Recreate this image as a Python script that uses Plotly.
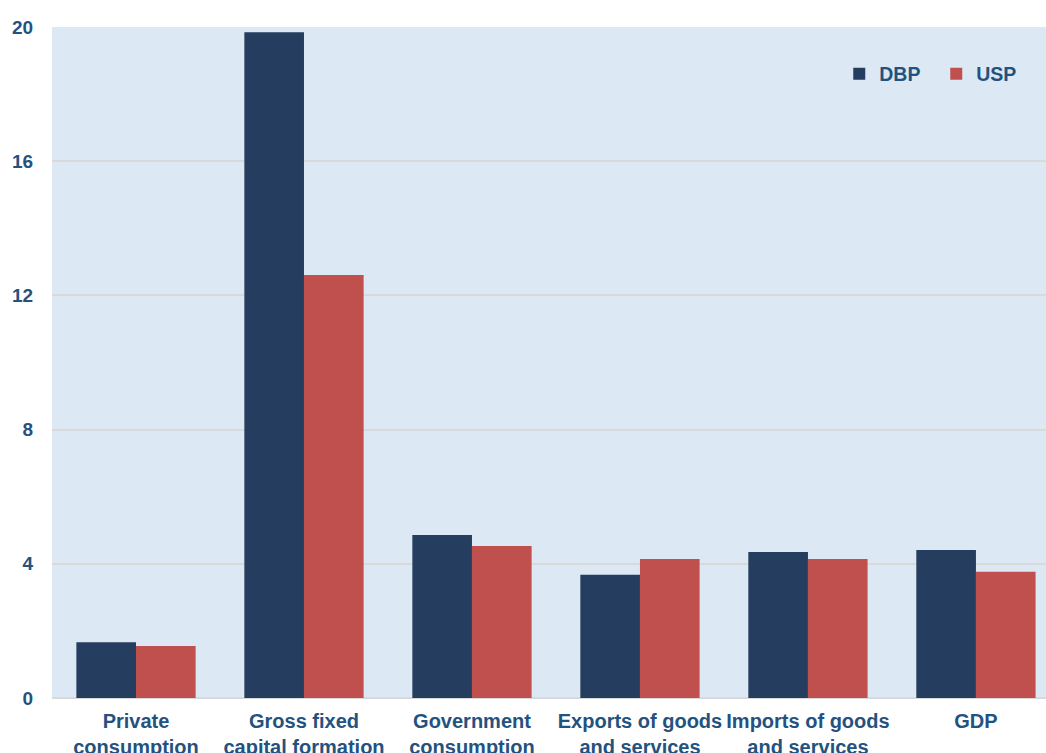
import plotly.graph_objects as go

categories = ["Private<br>consumption", "Gross fixed<br>capital formation", "Government<br>consumption",
              "Exports of goods<br>and services", "Imports of goods<br>and services", "GDP"]
dbp = [1.66, 19.84, 4.86, 3.67, 4.35, 4.41]
usp = [1.55, 12.61, 4.53, 4.14, 4.14, 3.76]
y_ticks = [0, 4, 8, 12, 16, 20]

TXT = "#24527F"
FONT = "Liberation Sans, Arial, sans-serif"

fig = go.Figure()
fig.add_trace(go.Bar(x=categories, y=dbp, name="DBP", marker=dict(color="#253E5F", line=dict(width=0))))
fig.add_trace(go.Bar(x=categories, y=usp, name="USP", marker=dict(color="#C0504D", line=dict(width=0))))

fig.update_layout(
    width=1046, height=753,
    margin=dict(l=52, r=0, t=27, b=55, autoexpand=False),
    paper_bgcolor="white",
    plot_bgcolor="#DCE9F5",
    barmode="group", bargap=0.29, bargroupgap=0,
    font=dict(family=FONT, color=TXT, size=20),
    legend=dict(orientation="h", x=0.792, y=0.93, xanchor="left", yanchor="middle",
                bgcolor="rgba(0,0,0,0)", font=dict(size=19.5, weight="bold", color=TXT),
                entrywidth=52, entrywidthmode="pixels", itemwidth=30, tracegroupgap=0),
    showlegend=True,
)
fig.update_xaxes(range=[-0.5, 5.417], showgrid=False, showline=False,
                 tickfont=dict(size=20, weight="bold", color=TXT),
                 ticks="outside", ticklen=5, tickcolor="rgba(0,0,0,0)")
fig.update_yaxes(range=[0, 20], tickvals=y_ticks, showgrid=True, gridcolor="#D9D9D9", gridwidth=1.5,
                 zeroline=True, zerolinecolor="#D9D9D9", zerolinewidth=2,
                 tickfont=dict(size=19, weight="bold", color=TXT),
                 ticks="outside", ticklen=14, tickcolor="rgba(0,0,0,0)")

fig.write_html("out.html")
